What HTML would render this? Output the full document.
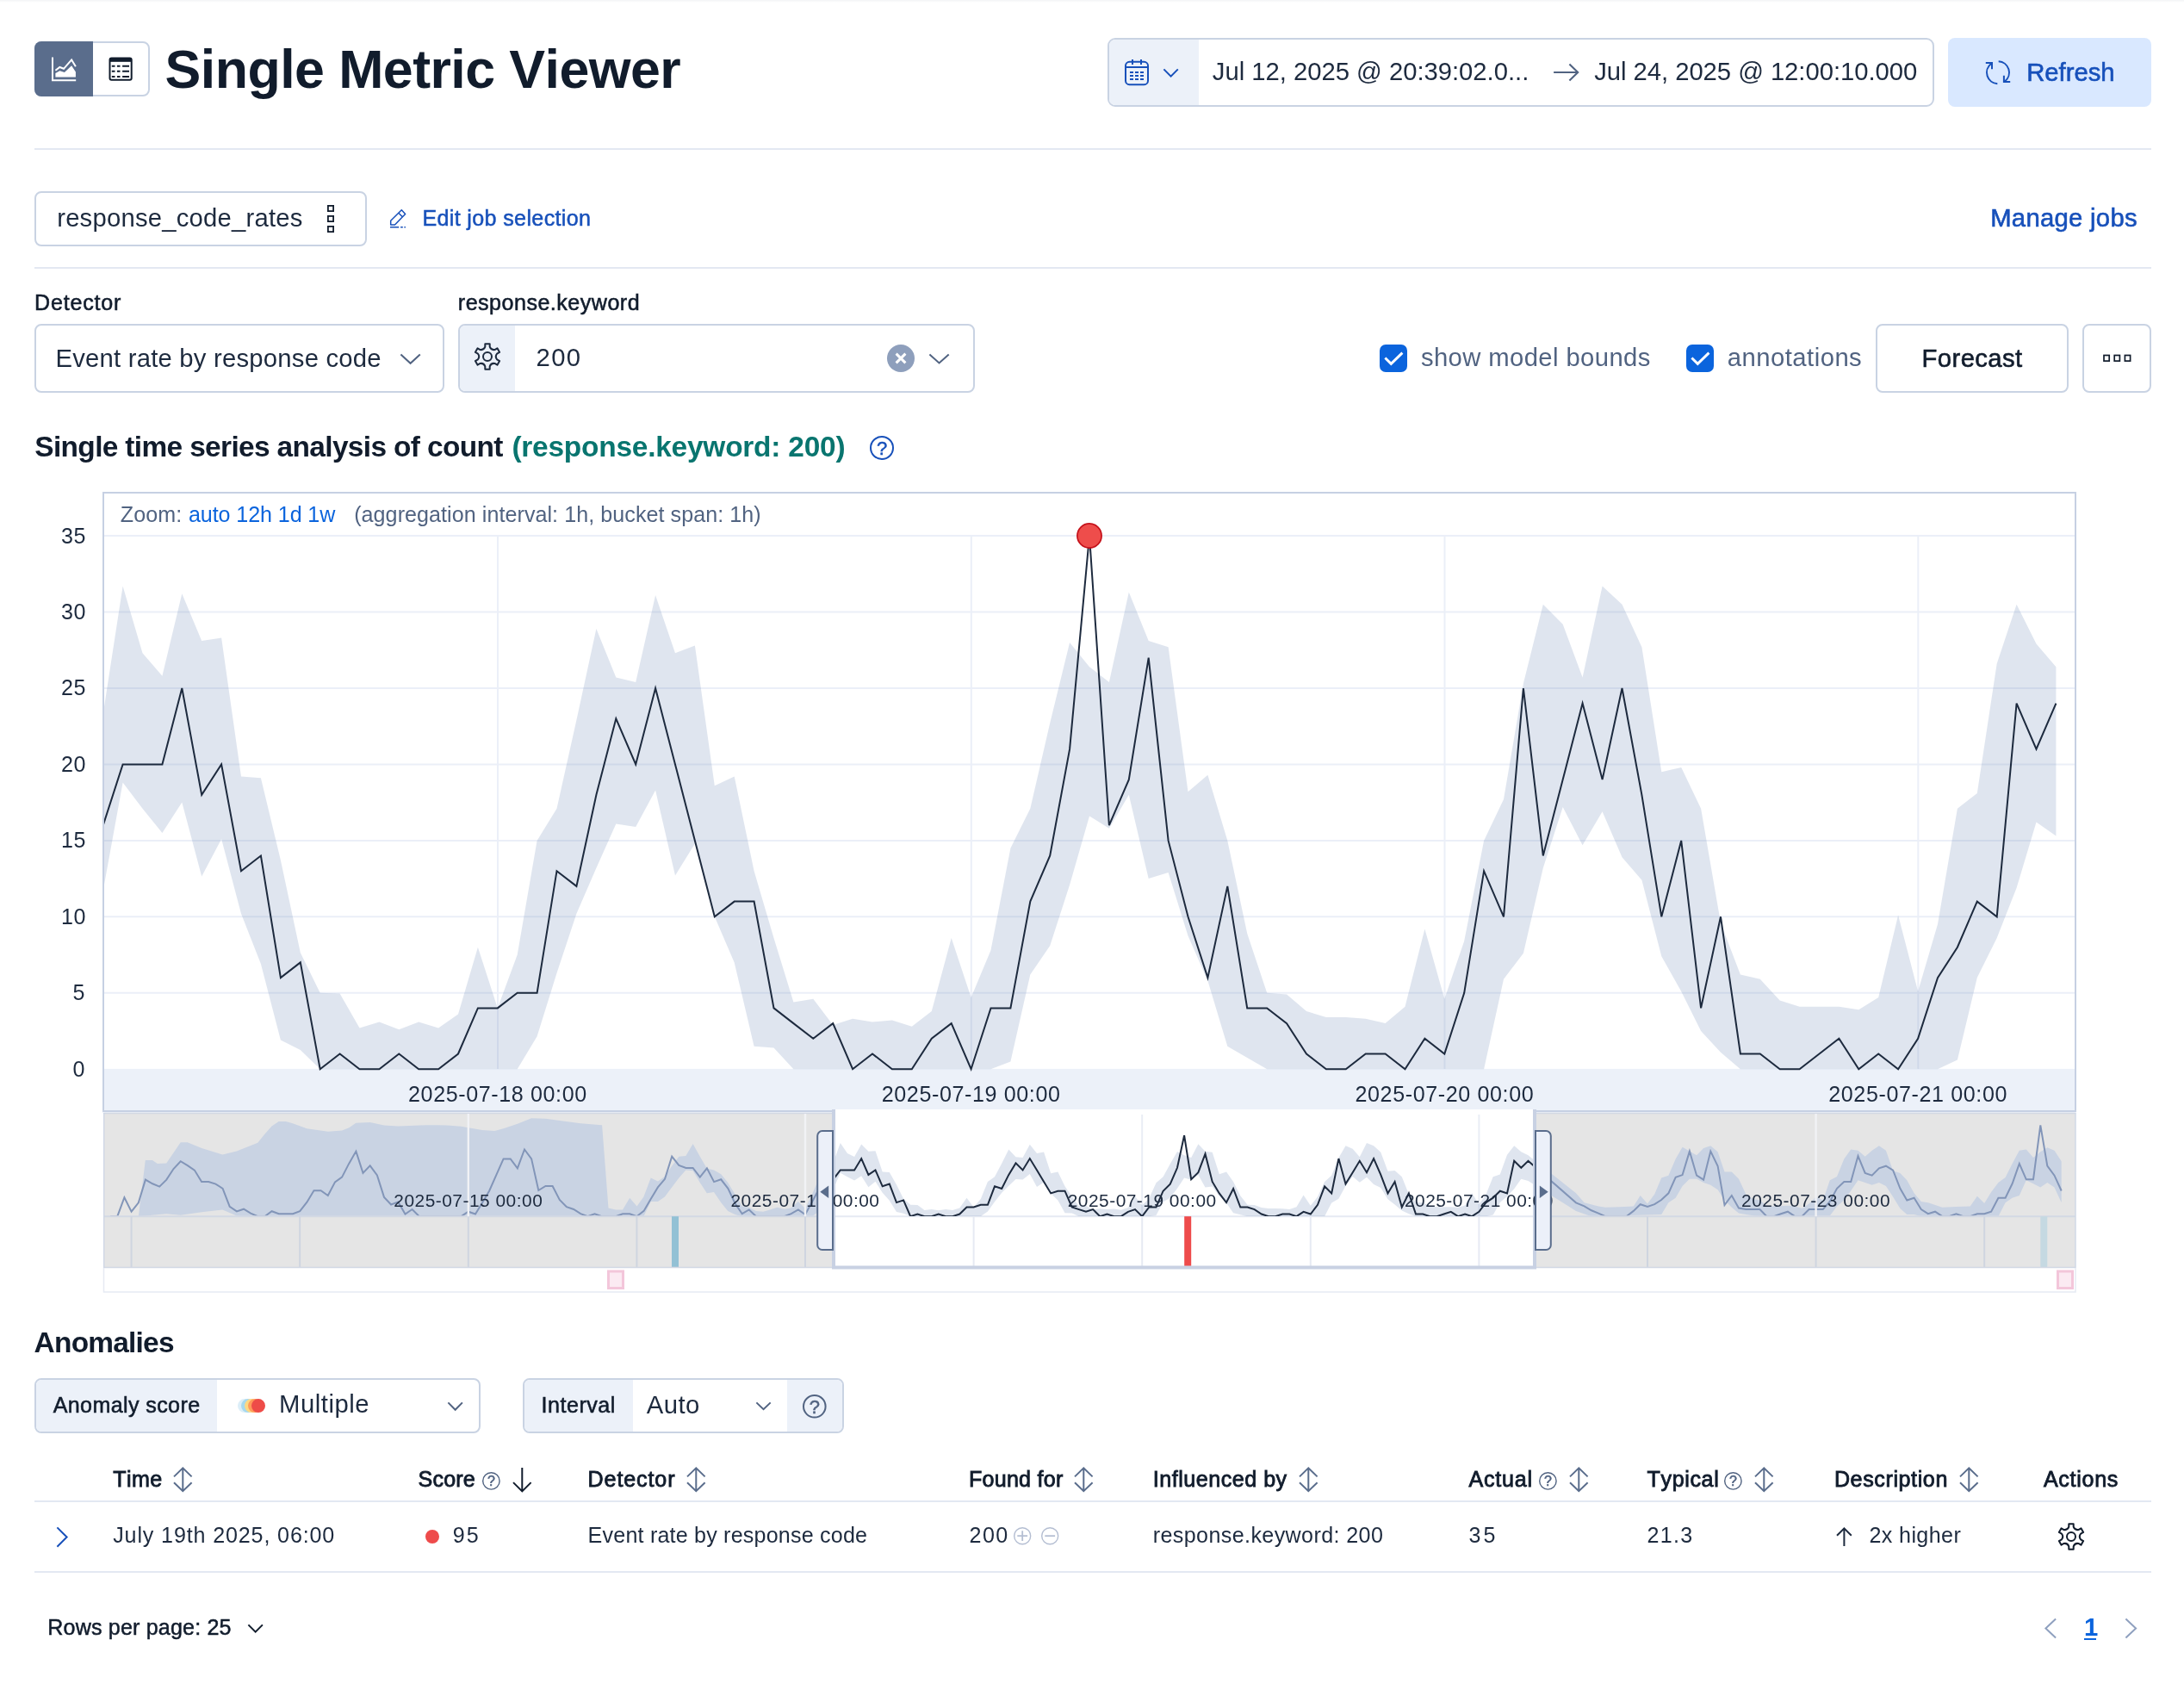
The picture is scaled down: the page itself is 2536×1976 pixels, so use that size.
<!DOCTYPE html>
<html lang="en"><head><meta charset="utf-8"><title>Single Metric Viewer</title>
<style>
html,body{margin:0;padding:0;background:#fff;}
body{width:2536px;height:1976px;position:relative;overflow:hidden;font-family:"Liberation Sans",sans-serif;}
#app{position:absolute;left:0;top:0;width:2536px;height:1976px;will-change:transform;}
.t{position:absolute;white-space:pre;font-family:"Liberation Sans",sans-serif;font-kerning:none;}
svg text{font-family:"Liberation Sans",sans-serif;}
</style></head>
<body>
<div id="app">
<!-- page header / controls -->
<div style="position:absolute;left:0px;top:0px;width:2536px;height:3px;background:linear-gradient(#f3f4f6,#ffffff);"></div>
<div style="position:absolute;left:40px;top:48px;width:134px;height:64px;border:2px solid #c9d3e3;border-radius:8px;box-sizing:border-box;background:#fff;"></div>
<div style="position:absolute;left:40px;top:48px;width:68px;height:64px;background:#5a6d8c;border-radius:8px 0 0 8px;"></div>
<svg style="position:absolute;left:58px;top:64px;overflow:visible" width="32" height="32" viewBox="0 0 32 32" ><path d="M3,2.5V29.2H30.2" fill="none" stroke="#fff" stroke-width="2"/><polyline points="6.4,17.8 11.4,14 16,15.8 25.1,5.4 29.9,13.3" fill="none" stroke="#fff" stroke-width="2"/><polygon points="6.4,25.5 6.4,21 11.4,18.2 16.9,20 25.1,12.2 29.9,19.5 29.9,25.5" fill="#fff"/></svg>
<svg style="position:absolute;left:124px;top:64px;overflow:visible" width="32" height="32" viewBox="0 0 32 32" ><rect x="3.5" y="3.6" width="25.2" height="25.2" rx="2" fill="none" stroke="#111c2c" stroke-width="2"/><rect x="3.5" y="3.6" width="25.2" height="4.2" fill="#111c2c"/><path d="M5.8,12.7h3.7M11.9,12.7h3.6M18.1,12.7h7.9M5.8,18.7h3.7M11.9,18.7h3.6M18.1,18.7h7.9M5.8,24.9h3.7M11.9,24.9h3.6M18.1,24.9h7.9" stroke="#111c2c" stroke-width="2" fill="none"/></svg>
<span class="t h1" style="left:191.60px;top:41.07px;font-size:62.7px;line-height:78px;letter-spacing:-0.560px;font-weight:700;color:#111c2c;">Single Metric Viewer</span>
<div style="position:absolute;left:1286px;top:44px;width:960px;height:80px;border:2px solid #c9d3e3;border-radius:9px;box-sizing:border-box;background:#fff;overflow:hidden;"><div style="position:absolute;left:0px;top:0px;width:104px;height:76px;background:#ecf1f9;"></div></div>
<svg style="position:absolute;left:1306px;top:69px;overflow:visible" width="28" height="30" viewBox="0 0 28 30" ><rect x="1" y="2.8" width="26" height="26.4" rx="4.5" fill="none" stroke="#1750ba" stroke-width="2"/><path d="M9,0v6M19,0v6M1,9H27" stroke="#1750ba" stroke-width="2" fill="none"/><path d="M6,15h4M12,15h4M18,15h4M6,19h4M12,19h4M18,19h4M6,23h4M12,23h4M18,23h4" stroke="#1750ba" stroke-width="2" fill="none"/></svg>
<svg style="position:absolute;left:1350.2px;top:78.6px;overflow:visible" width="19.200000000000045" height="11.0" viewBox="0 0 19.200000000000045 11.0" ><polyline points="1.40,1.40 9.60,9.60 17.80,1.40" fill="none" stroke="#1750ba" stroke-width="2" stroke-linecap="butt" stroke-linejoin="miter"/></svg>
<span class="t" style="left:1407.80px;top:65.46px;font-size:29.26px;line-height:37px;letter-spacing:-0.016px;font-weight:400;color:#1d2a3e;">Jul 12, 2025 @ 20:39:02.0...</span>
<svg style="position:absolute;left:1803px;top:74px;overflow:visible" width="31" height="20" viewBox="0 0 31 20" ><path d="M1.1,10H29.4M19.4,0.4L29.2,10L19.4,19.6" fill="none" stroke="#516381" stroke-width="2.1"/></svg>
<span class="t" style="left:1851.20px;top:65.46px;font-size:29.26px;line-height:37px;letter-spacing:-0.041px;font-weight:400;color:#1d2a3e;">Jul 24, 2025 @ 12:00:10.000</span>
<div style="position:absolute;left:2262px;top:44px;width:236px;height:80px;background:#d9e8ff;border-radius:8px;"></div>
<svg style="position:absolute;left:0;top:0;overflow:visible" width="1" height="1"><path d="M2312.00,73.96A13,13 0 0 0 2319.32,97.18" fill="none" stroke="#1750ba" stroke-width="2"/><path d="M2320.68,71.22A13,13 0 0 1 2328.00,94.44" fill="none" stroke="#1750ba" stroke-width="2"/><path d="M2305.8,73H2313V80.3" fill="none" stroke="#1750ba" stroke-width="2"/><path d="M2326.9,87.8V95.1H2334.2" fill="none" stroke="#1750ba" stroke-width="2"/></svg>
<span class="t" style="left:2353.20px;top:65.56px;font-size:29.26px;line-height:37px;letter-spacing:-0.002px;font-weight:400;color:#1750ba;-webkit-text-stroke:0.6px #1750ba;">Refresh</span>
<div style="position:absolute;left:40px;top:172px;width:2458px;height:2px;background:#e3e8f2;"></div>
<div style="position:absolute;left:40px;top:222px;width:386px;height:64px;border:2px solid #c9d3e3;border-radius:8px;box-sizing:border-box;background:#fff;"></div>
<span class="t" style="left:66.20px;top:235.36px;font-size:29.26px;line-height:37px;letter-spacing:0.213px;font-weight:400;color:#1d2a3e;">response_code_rates</span>
<svg style="position:absolute;left:0;top:0;overflow:visible" width="1" height="1"><rect x="380.9" y="238.9" width="6.2" height="6.2" fill="none" stroke="#111c2c" stroke-width="1.8"/><rect x="380.9" y="250.9" width="6.2" height="6.2" fill="none" stroke="#111c2c" stroke-width="1.8"/><rect x="380.9" y="262.9" width="6.2" height="6.2" fill="none" stroke="#111c2c" stroke-width="1.8"/></svg>
<svg style="position:absolute;left:0;top:0;overflow:visible" width="1" height="1"><path d="M453.7,256.2L466.3,243.8L470.6,248.5L458.5,260.9H453.7Z M462.9,247.3L467,251.5" fill="none" stroke="#1750ba" stroke-width="1.5" stroke-linejoin="round"/><path d="M453,263.8H463.2M465.1,263.8H467.8M469.4,263.8H470.9" stroke="#1750ba" stroke-width="1.6" fill="none"/></svg>
<span class="t" style="left:490.40px;top:237.61px;font-size:25.08px;line-height:31px;letter-spacing:0.355px;font-weight:400;color:#1750ba;-webkit-text-stroke:0.5px #1750ba;">Edit job selection</span>
<span class="t" style="left:2311.20px;top:235.36px;font-size:29.26px;line-height:37px;letter-spacing:0.294px;font-weight:400;color:#1750ba;-webkit-text-stroke:0.6px #1750ba;">Manage jobs</span>
<div style="position:absolute;left:40px;top:310px;width:2458px;height:2px;background:#e3e8f2;"></div>
<span class="t" style="left:40.00px;top:336.01px;font-size:25.08px;line-height:31px;letter-spacing:0.810px;font-weight:400;color:#111c2c;-webkit-text-stroke:0.55px #111c2c;">Detector</span>
<span class="t" style="left:531.80px;top:335.51px;font-size:25.08px;line-height:31px;letter-spacing:0.486px;font-weight:400;color:#111c2c;-webkit-text-stroke:0.55px #111c2c;">response.keyword</span>
<div style="position:absolute;left:40px;top:376px;width:476px;height:80px;border:2px solid #c9d3e3;border-radius:8px;box-sizing:border-box;background:#fff;"></div>
<span class="t" style="left:64.50px;top:397.56px;font-size:29.26px;line-height:37px;letter-spacing:0.219px;font-weight:400;color:#1d2a3e;">Event rate by response code</span>
<svg style="position:absolute;left:463.6px;top:409.8px;overflow:visible" width="25.19999999999999" height="13.199999999999989" viewBox="0 0 25.19999999999999 13.199999999999989" ><polyline points="1.40,1.40 12.60,11.80 23.80,1.40" fill="none" stroke="#516381" stroke-width="2" stroke-linecap="butt" stroke-linejoin="miter"/></svg>
<div style="position:absolute;left:532px;top:376px;width:600px;height:80px;border:2px solid #c9d3e3;border-radius:8px;box-sizing:border-box;background:#fff;overflow:hidden;"><div style="position:absolute;left:0px;top:0px;width:64px;height:76px;background:#ecf1f9;"></div></div>
<svg style="position:absolute;left:546.0px;top:394.0px;overflow:visible" width="40" height="40" viewBox="0 0 40 40" ><path d="M17.30,8.72L17.30,5.25L22.70,5.25L22.70,8.72A5.2,5.2 0 0 0 28.42,12.02L31.43,10.28L34.13,14.96L31.12,16.70A5.2,5.2 0 0 0 31.12,23.30L34.13,25.04L31.43,29.72L28.42,27.98A5.2,5.2 0 0 0 22.70,31.28L22.70,34.75L17.30,34.75L17.30,31.28A5.2,5.2 0 0 0 11.58,27.98L8.57,29.72L5.87,25.04L8.88,23.30A5.2,5.2 0 0 0 8.88,16.70L5.87,14.96L8.57,10.28L11.58,12.02A5.2,5.2 0 0 0 17.30,8.72Z" fill="none" stroke="#1d2a3e" stroke-width="2" stroke-linejoin="round"/><circle cx="20.0" cy="20.0" r="5" fill="none" stroke="#1d2a3e" stroke-width="2"/></svg>
<span class="t" style="left:622.60px;top:397.06px;font-size:29.26px;line-height:37px;letter-spacing:1.267px;font-weight:400;color:#1d2a3e;">200</span>
<svg style="position:absolute;left:1030px;top:400px;overflow:visible" width="32" height="32" viewBox="0 0 32 32" ><circle cx="16" cy="16" r="16" fill="#8e9fbc"/><path d="M10.6,10.6L21.4,21.4M21.4,10.6L10.6,21.4" stroke="#fff" stroke-width="3" fill="none"/></svg>
<svg style="position:absolute;left:1077.6px;top:409.8px;overflow:visible" width="25.100000000000136" height="12.800000000000011" viewBox="0 0 25.100000000000136 12.800000000000011" ><polyline points="1.40,1.40 12.55,11.40 23.70,1.40" fill="none" stroke="#516381" stroke-width="2" stroke-linecap="butt" stroke-linejoin="miter"/></svg>
<svg style="position:absolute;left:1602px;top:400px;overflow:visible" width="32" height="32" viewBox="0 0 32 32" ><rect width="32" height="32" rx="7" fill="#0b64dd"/><path d="M6.4,15.5L13.3,22.4L26.4,9.6" fill="none" stroke="#fff" stroke-width="2.9"/></svg>
<span class="t" style="left:1649.90px;top:397.36px;font-size:29.26px;line-height:37px;letter-spacing:0.393px;font-weight:400;color:#516381;">show model bounds</span>
<svg style="position:absolute;left:1958px;top:400px;overflow:visible" width="32" height="32" viewBox="0 0 32 32" ><rect width="32" height="32" rx="7" fill="#0b64dd"/><path d="M6.4,15.5L13.3,22.4L26.4,9.6" fill="none" stroke="#fff" stroke-width="2.9"/></svg>
<span class="t" style="left:2005.80px;top:397.36px;font-size:29.26px;line-height:37px;letter-spacing:0.470px;font-weight:400;color:#516381;">annotations</span>
<div style="position:absolute;left:2178px;top:376px;width:224px;height:80px;border:2px solid #c9d3e3;border-radius:8px;box-sizing:border-box;background:#fff;"></div>
<span class="t" style="left:2231.60px;top:397.56px;font-size:29.26px;line-height:37px;letter-spacing:0.387px;font-weight:400;color:#111c2c;-webkit-text-stroke:0.6px #111c2c;">Forecast</span>
<div style="position:absolute;left:2418px;top:376px;width:80px;height:80px;border:2px solid #c9d3e3;border-radius:8px;box-sizing:border-box;background:#fff;"></div>
<svg style="position:absolute;left:0;top:0;overflow:visible" width="1" height="1"><rect x="2443" y="412.5" width="6.2" height="6.6" fill="none" stroke="#111c2c" stroke-width="1.7"/><rect x="2455.2" y="412.5" width="6.2" height="6.6" fill="none" stroke="#111c2c" stroke-width="1.7"/><rect x="2467.4" y="412.5" width="6.2" height="6.6" fill="none" stroke="#111c2c" stroke-width="1.7"/></svg>
<span class="t" style="left:40.30px;top:497.71px;font-size:33.44px;line-height:42px;letter-spacing:-0.642px;font-weight:700;color:#111c2c;">Single time series analysis of count</span>
<span class="t" style="left:594.40px;top:497.71px;font-size:33.44px;line-height:42px;letter-spacing:-0.217px;font-weight:700;color:#09756f;">(response.keyword: 200)</span>
<svg style="position:absolute;left:1008.0px;top:503.9px;overflow:visible" width="32" height="32" viewBox="0 0 32 32" ><circle cx="16.0" cy="16.0" r="13.0" fill="none" stroke="#1750ba" stroke-width="2"/><text x="16.0" y="23.92" text-anchor="middle" font-family="Liberation Sans, sans-serif" font-size="22" font-weight="400" fill="#1750ba" stroke="#1750ba" stroke-width="0.5">?</text></svg>
<!-- time series chart -->
<svg style="position:absolute;left:0;top:0" width="2536" height="1520" viewBox="0 0 2536 1520">
<defs><clipPath id="fclip"><rect x="121" y="573" width="2288" height="716"/></clipPath><clipPath id="selclip"><rect x="968" y="1288" width="814" height="184"/></clipPath><clipPath id="selclip2"><rect x="968" y="1288" width="814" height="124.1"/></clipPath><clipPath id="ctxclip2"><rect x="121" y="1292" width="2289" height="121"/></clipPath><clipPath id="ctxclip"><rect x="121" y="1292" width="2289" height="180"/></clipPath></defs>
<line x1="121" x2="2409" y1="1152.8" y2="1152.8" stroke="#ebeff8" stroke-width="2"/>
<line x1="121" x2="2409" y1="1064.3" y2="1064.3" stroke="#ebeff8" stroke-width="2"/>
<line x1="121" x2="2409" y1="975.9" y2="975.9" stroke="#ebeff8" stroke-width="2"/>
<line x1="121" x2="2409" y1="887.4" y2="887.4" stroke="#ebeff8" stroke-width="2"/>
<line x1="121" x2="2409" y1="799.0" y2="799.0" stroke="#ebeff8" stroke-width="2"/>
<line x1="121" x2="2409" y1="710.5" y2="710.5" stroke="#ebeff8" stroke-width="2"/>
<line x1="121" x2="2409" y1="622.0" y2="622.0" stroke="#ebeff8" stroke-width="2"/>
<line x1="578.0" x2="578.0" y1="622.0" y2="1241.2" stroke="#ebeff8" stroke-width="2"/>
<line x1="1127.8" x2="1127.8" y1="622.0" y2="1241.2" stroke="#ebeff8" stroke-width="2"/>
<line x1="1677.5" x2="1677.5" y1="622.0" y2="1241.2" stroke="#ebeff8" stroke-width="2"/>
<line x1="2227.3" x2="2227.3" y1="622.0" y2="1241.2" stroke="#ebeff8" stroke-width="2"/>
<rect x="121" y="1240.9" width="2288" height="48.1" fill="#ecf1f9"/>
<polygon clip-path="url(#fclip)" points="119.7,829.0 142.6,680.4 165.5,758.3 188.4,784.8 211.3,689.3 234.2,744.1 257.1,740.6 280.0,901.6 302.9,903.3 325.9,998.8 348.8,1105.9 371.7,1152.8 394.6,1153.6 417.5,1193.4 440.4,1186.4 463.3,1195.2 486.2,1186.4 509.1,1193.4 532.0,1177.5 554.9,1099.7 577.8,1170.4 600.7,1108.5 623.6,975.9 646.5,938.7 669.4,836.1 692.4,730.0 715.3,786.6 738.2,791.9 761.1,691.0 784.0,758.3 806.9,749.4 829.8,912.2 852.7,901.6 875.6,1011.2 898.5,1089.1 921.4,1163.4 944.3,1159.8 967.2,1189.9 990.1,1182.8 1013.0,1186.4 1035.9,1184.6 1058.8,1191.7 1081.8,1174.0 1104.7,1089.1 1127.6,1158.1 1150.5,1103.2 1173.4,984.7 1196.3,938.7 1219.2,839.6 1242.1,745.9 1265.0,774.2 1287.9,791.9 1310.8,687.5 1333.7,744.1 1356.6,751.2 1379.5,919.2 1402.4,899.8 1425.3,975.9 1448.2,1083.8 1471.2,1152.8 1494.1,1154.5 1517.0,1174.0 1539.9,1181.1 1562.8,1181.1 1585.7,1182.8 1608.6,1188.1 1631.5,1168.7 1654.4,1078.5 1677.3,1159.8 1700.2,1092.6 1723.1,975.9 1746.0,928.1 1768.9,793.6 1791.8,701.7 1814.7,724.7 1837.6,786.6 1860.6,680.4 1883.5,701.7 1906.4,751.2 1929.3,896.2 1952.2,890.9 1975.1,938.7 1998.0,1071.4 2020.9,1131.5 2043.8,1136.8 2066.7,1161.6 2089.6,1168.7 2112.5,1168.7 2135.4,1168.7 2158.3,1172.2 2181.2,1158.1 2204.1,1062.5 2227.1,1151.0 2250.0,1073.1 2272.9,938.7 2295.8,921.0 2318.7,770.6 2341.6,701.7 2364.5,747.6 2387.4,774.2 2387.4,970.5 2364.5,954.6 2341.6,1030.7 2318.7,1089.1 2295.8,1135.1 2272.9,1230.6 2250.0,1241.2 2227.1,1241.2 2204.1,1241.2 2181.2,1241.2 2158.3,1241.2 2135.4,1241.2 2112.5,1241.2 2089.6,1241.2 2066.7,1241.2 2043.8,1241.2 2020.9,1241.2 1998.0,1221.7 1975.1,1197.0 1952.2,1151.0 1929.3,1110.3 1906.4,1021.8 1883.5,995.3 1860.6,942.2 1837.6,981.2 1814.7,936.9 1791.8,1007.7 1768.9,1106.8 1746.0,1136.8 1723.1,1241.2 1700.2,1241.2 1677.3,1241.2 1654.4,1241.2 1631.5,1241.2 1608.6,1241.2 1585.7,1241.2 1562.8,1241.2 1539.9,1241.2 1517.0,1241.2 1494.1,1241.2 1471.2,1241.2 1448.2,1227.9 1425.3,1214.7 1402.4,1138.6 1379.5,1086.4 1356.6,1013.0 1333.7,1020.1 1310.8,922.8 1287.9,961.7 1265.0,947.5 1242.1,1027.2 1219.2,1097.9 1196.3,1131.5 1173.4,1232.4 1150.5,1241.2 1127.6,1241.2 1104.7,1241.2 1081.8,1241.2 1058.8,1241.2 1035.9,1241.2 1013.0,1241.2 990.1,1241.2 967.2,1241.2 944.3,1241.2 921.4,1241.2 898.5,1216.4 875.6,1214.7 852.7,1117.4 829.8,1064.3 806.9,979.4 784.0,1016.5 761.1,917.5 738.2,959.9 715.3,956.4 692.4,1007.7 669.4,1060.8 646.5,1129.8 623.6,1203.2 600.7,1241.2 577.8,1241.2 554.9,1241.2 532.0,1241.2 509.1,1241.2 486.2,1241.2 463.3,1241.2 440.4,1241.2 417.5,1241.2 394.6,1241.2 371.7,1241.2 348.8,1219.1 325.9,1207.6 302.9,1119.1 280.0,1060.8 257.1,974.1 234.2,1017.4 211.3,931.6 188.4,967.0 165.5,938.7 142.6,908.6 119.7,1034.2" fill="rgb(95,125,175)" fill-opacity="0.2"/>
<polyline clip-path="url(#fclip)" points="119.7,958.2 142.6,887.4 165.5,887.4 188.4,887.4 211.3,799.0 234.2,922.8 257.1,887.4 280.0,1011.2 302.9,993.5 325.9,1135.1 348.8,1117.4 371.7,1241.2 394.6,1223.5 417.5,1241.2 440.4,1241.2 463.3,1223.5 486.2,1241.2 509.1,1241.2 532.0,1223.5 554.9,1170.4 577.8,1170.4 600.7,1152.8 623.6,1152.8 646.5,1011.2 669.4,1028.9 692.4,922.8 715.3,834.3 738.2,887.4 761.1,799.0 784.0,887.4 806.9,975.9 829.8,1064.3 852.7,1046.6 875.6,1046.6 898.5,1170.4 921.4,1188.1 944.3,1205.8 967.2,1188.1 990.1,1241.2 1013.0,1223.5 1035.9,1241.2 1058.8,1241.2 1081.8,1205.8 1104.7,1188.1 1127.6,1241.2 1150.5,1170.4 1173.4,1170.4 1196.3,1046.6 1219.2,993.5 1242.1,869.7 1265.0,622.0 1287.9,958.2 1310.8,905.1 1333.7,763.6 1356.6,975.9 1379.5,1064.3 1402.4,1135.1 1425.3,1028.9 1448.2,1170.4 1471.2,1170.4 1494.1,1188.1 1517.0,1223.5 1539.9,1241.2 1562.8,1241.2 1585.7,1223.5 1608.6,1223.5 1631.5,1241.2 1654.4,1205.8 1677.3,1223.5 1700.2,1152.8 1723.1,1011.2 1746.0,1064.3 1768.9,799.0 1791.8,993.5 1814.7,905.1 1837.6,816.6 1860.6,905.1 1883.5,799.0 1906.4,922.8 1929.3,1064.3 1952.2,975.9 1975.1,1170.4 1998.0,1064.3 2020.9,1223.5 2043.8,1223.5 2066.7,1241.2 2089.6,1241.2 2112.5,1223.5 2135.4,1205.8 2158.3,1241.2 2181.2,1223.5 2204.1,1241.2 2227.1,1205.8 2250.0,1135.1 2272.9,1099.7 2295.8,1046.6 2318.7,1064.3 2341.6,816.6 2364.5,869.7 2387.4,816.6" fill="none" stroke="#1d2a3e" stroke-width="2" stroke-linejoin="miter"/>
<circle cx="1265.0" cy="622.0" r="14.1" fill="#ee4d4b" stroke="#c5121b" stroke-width="1.7"/>
<rect x="120" y="572" width="2290" height="718" fill="none" stroke="#c6d0e3" stroke-width="2"/>
<rect x="119" y="1291" width="2292" height="1.6" fill="#eef2f9"/>
<rect x="121" y="1292" width="2289" height="180" fill="#e5e5e5"/>
<line x1="121" x2="2410" y1="1292.5" y2="1292.5" stroke="#d2d8e4" stroke-width="1.5"/>
<g clip-path="url(#ctxclip2)"><polygon points="160.8,1412.2 168.8,1347.1 177.0,1347.1 182.8,1350.9 193.2,1350.4 209.7,1326.2 217.7,1326.2 234.2,1333.1 258.4,1340.5 274.8,1336.6 299.3,1326.8 307.5,1316.6 315.5,1307.5 323.7,1302.0 332.0,1302.0 339.9,1304.2 356.4,1310.3 380.9,1313.8 397.1,1312.5 405.3,1309.2 413.3,1303.7 429.8,1303.1 446.0,1306.4 462.2,1307.5 494.6,1306.2 519.3,1306.4 535.5,1307.8 543.8,1309.2 560.0,1311.9 574.3,1313.0 584.5,1310.3 600.9,1304.8 617.1,1298.2 633.4,1298.7 649.8,1300.9 674.3,1304.2 698.7,1306.2 698.8,1306.2 699.5,1306.2 699.1,1306.2 706.5,1402.6 715.0,1404.5 723.0,1404.5 731.2,1390.8 739.5,1400.4 747.4,1389.4 755.7,1367.4 763.9,1371.5 771.9,1366.0 780.1,1353.7 788.4,1342.7 796.3,1342.1 804.6,1328.1 812.8,1342.7 820.8,1356.4 829.0,1358.6 837.3,1363.3 845.2,1372.9 853.5,1386.6 861.7,1400.4 869.7,1401.8 877.9,1405.9 886.2,1406.7 894.1,1404.5 902.4,1401.8 910.6,1403.7 918.6,1402.6 926.8,1394.9 935.1,1403.1 943.0,1386.6 951.3,1367.4 959.5,1350.9 967.5,1344.1 967.6,1349.6 975.8,1327.1 983.9,1338.9 992.1,1342.9 1000.2,1328.4 1008.4,1336.8 1016.5,1336.2 1024.7,1360.6 1032.8,1360.9 1041.0,1375.4 1049.1,1391.7 1057.2,1398.8 1065.4,1398.9 1073.5,1405.0 1081.7,1403.9 1089.8,1405.2 1098.0,1403.9 1106.2,1405.0 1114.3,1402.5 1122.5,1390.7 1130.6,1401.5 1138.8,1392.1 1146.9,1371.9 1155.0,1366.3 1163.2,1350.7 1171.3,1334.6 1179.5,1343.2 1187.6,1344.0 1195.8,1328.7 1204.0,1338.9 1212.1,1337.6 1220.2,1362.3 1228.4,1360.6 1236.5,1377.3 1244.7,1389.1 1252.8,1400.4 1261.0,1399.8 1269.1,1404.4 1277.3,1403.3 1285.5,1403.9 1293.6,1403.6 1301.8,1404.7 1309.9,1402.0 1318.0,1389.1 1326.2,1399.6 1334.3,1391.3 1342.5,1373.3 1350.6,1366.3 1358.8,1351.3 1367.0,1337.0 1375.1,1341.3 1383.2,1344.0 1391.4,1328.2 1399.5,1336.8 1407.7,1337.8 1415.8,1363.3 1424.0,1360.4 1432.1,1371.9 1440.3,1388.3 1448.5,1398.8 1456.6,1399.0 1464.8,1402.0 1472.9,1403.1 1481.0,1403.1 1489.2,1403.3 1497.3,1404.1 1505.5,1401.2 1513.6,1387.5 1521.8,1399.8 1530.0,1389.6 1538.1,1371.9 1546.2,1364.7 1554.4,1344.3 1562.5,1330.3 1570.7,1333.8 1578.8,1343.2 1587.0,1327.1 1595.1,1330.3 1603.3,1337.8 1611.5,1359.8 1619.6,1359.0 1627.8,1366.3 1635.9,1386.4 1644.0,1395.6 1652.2,1396.4 1660.3,1400.1 1668.5,1401.2 1676.6,1401.2 1684.8,1401.2 1693.0,1401.7 1701.1,1399.6 1709.2,1385.1 1717.4,1398.5 1725.5,1386.7 1733.7,1366.3 1741.8,1363.6 1750.0,1340.8 1758.2,1330.3 1766.3,1337.3 1774.5,1341.3 1830.0,1385.3 1839.6,1396.3 1856.1,1400.4 1864.1,1401.8 1880.5,1401.2 1896.8,1400.4 1904.7,1388.0 1913.0,1397.6 1921.2,1386.6 1929.2,1367.4 1937.4,1364.7 1945.7,1345.4 1953.6,1331.7 1961.9,1336.6 1970.1,1341.3 1978.1,1333.1 1986.3,1330.3 1994.6,1337.2 2002.5,1360.5 2010.8,1360.5 2019.0,1368.8 2027.3,1386.6 2035.2,1392.1 2043.5,1393.5 2051.4,1399.8 2059.7,1400.4 2075.9,1399.8 2084.1,1400.4 2092.4,1403.1 2100.6,1397.6 2108.6,1389.4 2116.8,1393.5 2124.8,1370.2 2133.0,1366.0 2141.3,1345.4 2149.2,1334.5 2157.5,1335.8 2165.7,1342.7 2173.7,1335.8 2181.9,1330.3 2189.9,1335.8 2198.1,1359.2 2206.4,1361.9 2214.3,1370.2 2222.6,1385.3 2230.8,1394.9 2238.8,1396.3 2255.3,1401.8 2271.5,1400.9 2287.7,1400.4 2295.9,1388.8 2304.2,1397.1 2312.1,1383.9 2320.4,1372.9 2328.6,1366.9 2336.6,1350.9 2344.8,1335.8 2352.8,1334.5 2361.0,1344.1 2369.3,1337.2 2377.3,1332.3 2385.5,1335.8 2393.7,1348.2 2393.7,1396.3 2385.5,1378.4 2377.3,1372.9 2369.3,1378.4 2361.0,1374.3 2352.8,1370.2 2344.8,1388.0 2336.6,1390.8 2328.6,1396.3 2320.4,1412.2 2230.8,1412.2 2222.6,1410.0 2214.3,1410.0 2206.4,1403.1 2198.1,1389.4 2189.9,1377.0 2181.9,1372.9 2173.7,1375.7 2165.7,1372.9 2157.5,1370.2 2149.2,1382.5 2141.3,1393.5 2133.0,1400.4 2124.8,1411.4 2043.5,1412.2 2027.3,1410.0 2019.0,1408.6 2010.8,1401.8 2002.5,1393.5 1994.6,1381.2 1986.3,1375.7 1978.1,1372.9 1970.1,1368.8 1961.9,1368.8 1953.6,1377.0 1945.7,1390.8 1937.4,1396.3 1929.2,1410.0 1847.9,1412.2 1830.0,1405.9 1774.5,1371.1 1766.3,1368.7 1758.2,1380.2 1750.0,1389.1 1741.8,1396.1 1733.7,1410.6 1725.5,1412.2 1717.4,1412.2 1709.2,1412.2 1701.1,1412.2 1693.0,1412.2 1684.8,1412.2 1676.6,1412.2 1668.5,1412.2 1660.3,1412.2 1652.2,1412.2 1644.0,1412.2 1635.9,1409.2 1627.8,1405.5 1619.6,1398.5 1611.5,1392.3 1603.3,1378.9 1595.1,1374.9 1587.0,1366.8 1578.8,1372.7 1570.7,1366.0 1562.5,1376.8 1554.4,1391.8 1546.2,1396.4 1538.1,1412.2 1530.0,1412.2 1521.8,1412.2 1513.6,1412.2 1505.5,1412.2 1497.3,1412.2 1489.2,1412.2 1481.0,1412.2 1472.9,1412.2 1464.8,1412.2 1456.6,1412.2 1448.5,1412.2 1440.3,1410.2 1432.1,1408.2 1424.0,1396.6 1415.8,1388.7 1407.7,1377.6 1399.5,1378.6 1391.4,1363.9 1383.2,1369.8 1375.1,1367.6 1367.0,1379.7 1358.8,1390.5 1350.6,1395.6 1342.5,1410.9 1334.3,1412.2 1326.2,1412.2 1318.0,1412.2 1309.9,1412.2 1301.8,1412.2 1293.6,1412.2 1285.5,1412.2 1277.3,1412.2 1269.1,1412.2 1261.0,1412.2 1252.8,1412.2 1244.7,1408.4 1236.5,1408.2 1228.4,1393.4 1220.2,1385.4 1212.1,1372.5 1204.0,1378.1 1195.8,1363.1 1187.6,1369.5 1179.5,1369.0 1171.3,1376.8 1163.2,1384.8 1155.0,1395.3 1146.9,1406.4 1138.8,1412.2 1130.6,1412.2 1122.5,1412.2 1114.3,1412.2 1106.2,1412.2 1098.0,1412.2 1089.8,1412.2 1081.7,1412.2 1073.5,1412.2 1065.4,1412.2 1057.2,1412.2 1049.1,1408.8 1041.0,1407.1 1032.8,1393.7 1024.7,1384.8 1016.5,1371.7 1008.4,1378.2 1000.2,1365.2 992.1,1370.6 983.9,1366.3 975.8,1361.7 967.6,1380.8 967.5,1382.5 959.5,1394.9 951.3,1405.9 943.0,1412.2 861.7,1412.2 853.5,1410.0 845.2,1405.9 837.3,1396.3 829.0,1383.9 820.8,1385.3 812.8,1372.9 804.6,1359.2 796.3,1358.6 788.4,1367.4 780.1,1378.4 771.9,1389.4 763.9,1394.9 755.7,1394.9 747.4,1412.2 698.7,1412.2 285.8,1412.2 274.8,1411.4 258.4,1404.5 234.2,1407.3 209.7,1410.8 193.2,1409.2 160.8,1412.2" fill="#c9d3e3" fill-opacity="1"/><polyline points="128.1,1412.2 136.3,1412.2 144.4,1390.2 152.6,1406.7 160.8,1396.3 168.9,1369.6 177.1,1374.3 185.2,1377.6 193.3,1369.6 201.5,1357.0 209.7,1348.2 217.8,1353.1 225.9,1358.6 234.1,1372.1 242.2,1372.1 250.4,1374.6 258.6,1379.8 266.7,1400.9 274.9,1406.4 283.0,1403.7 291.1,1408.6 299.3,1412.2 307.4,1412.2 315.6,1406.2 323.8,1409.2 331.9,1409.2 340.1,1409.2 348.2,1406.2 356.4,1395.7 364.5,1382.3 372.6,1382.3 380.8,1388.0 389.0,1372.4 397.1,1366.6 405.2,1350.9 413.4,1336.6 421.5,1361.9 429.7,1353.4 437.9,1364.4 446.0,1389.9 454.1,1398.5 462.3,1395.4 470.5,1409.5 478.6,1404.0 486.8,1412.2 494.9,1412.2 503.0,1412.2 511.2,1412.2 519.4,1412.2 527.5,1412.2 535.6,1412.2 543.8,1406.7 552.0,1409.5 560.1,1396.3 568.2,1382.5 576.4,1363.8 584.6,1345.4 592.7,1345.4 600.9,1356.4 609.0,1334.5 617.1,1345.4 625.3,1382.0 633.5,1377.0 641.6,1377.0 649.8,1393.0 657.9,1401.2 666.1,1404.0 674.2,1409.2 682.4,1412.2 690.5,1409.2 698.7,1412.2 706.8,1412.2 715.0,1412.2 723.1,1409.2 731.2,1409.2 739.4,1412.2 747.6,1405.9 755.7,1392.1 763.9,1378.4 772.0,1368.8 780.2,1342.7 788.3,1352.9 796.5,1355.9 804.6,1355.9 812.8,1366.6 820.9,1356.4 829.1,1372.1 837.2,1369.3 845.4,1379.8 853.5,1397.1 861.7,1409.2 869.8,1404.5 878.0,1412.2 886.1,1412.2 894.2,1412.2 902.4,1412.2 910.6,1412.2 918.7,1409.2 926.9,1404.5 935.0,1410.0 943.2,1394.9 951.3,1379.8 959.5,1375.7 967.6,1369.2 975.8,1358.5 983.9,1358.5 992.1,1358.5 1000.2,1345.1 1008.4,1363.9 1016.5,1358.5 1024.7,1377.3 1032.8,1374.6 1041.0,1396.1 1049.1,1393.4 1057.2,1412.2 1065.4,1409.5 1073.5,1412.2 1081.7,1412.2 1089.8,1409.5 1098.0,1412.2 1106.2,1412.2 1114.3,1409.5 1122.5,1401.5 1130.6,1401.5 1138.8,1398.8 1146.9,1398.8 1155.0,1377.3 1163.2,1380.0 1171.3,1363.9 1179.5,1350.4 1187.6,1358.5 1195.8,1345.1 1204.0,1358.5 1212.1,1371.9 1220.2,1385.4 1228.4,1382.7 1236.5,1382.7 1244.7,1401.5 1252.8,1404.1 1261.0,1406.8 1269.1,1404.1 1277.3,1412.2 1285.5,1409.5 1293.6,1412.2 1301.8,1412.2 1309.9,1406.8 1318.0,1404.1 1326.2,1412.2 1334.3,1401.5 1342.5,1401.5 1350.6,1382.7 1358.8,1374.6 1367.0,1355.8 1375.1,1318.2 1383.2,1369.2 1391.4,1361.2 1399.5,1339.7 1407.7,1371.9 1415.8,1385.4 1424.0,1396.1 1432.1,1380.0 1440.3,1401.5 1448.5,1401.5 1456.6,1404.1 1464.8,1409.5 1472.9,1412.2 1481.0,1412.2 1489.2,1409.5 1497.3,1409.5 1505.5,1412.2 1513.6,1406.8 1521.8,1409.5 1530.0,1398.8 1538.1,1377.3 1546.2,1385.4 1554.4,1345.1 1562.5,1374.6 1570.7,1361.2 1578.8,1347.8 1587.0,1361.2 1595.1,1345.1 1603.3,1363.9 1611.5,1385.4 1619.6,1371.9 1627.8,1401.5 1635.9,1385.4 1644.0,1409.5 1652.2,1409.5 1660.3,1412.2 1668.5,1412.2 1676.6,1409.5 1684.8,1406.8 1693.0,1412.2 1701.1,1409.5 1709.2,1412.2 1717.4,1406.8 1725.5,1396.1 1733.7,1390.7 1741.8,1382.7 1750.0,1385.4 1758.2,1347.8 1766.3,1355.8 1774.5,1347.8 1830.0,1396.3 1839.6,1400.4 1847.9,1405.3 1856.1,1408.6 1864.1,1412.2 1872.3,1412.2 1880.5,1412.2 1888.5,1412.2 1896.8,1405.9 1904.7,1398.2 1913.0,1400.9 1921.2,1398.2 1929.2,1393.0 1937.4,1385.3 1945.7,1366.9 1953.6,1364.1 1961.9,1336.6 1970.1,1364.7 1978.1,1369.6 1986.3,1336.6 1994.6,1353.7 2002.5,1399.0 2010.8,1388.0 2019.0,1402.6 2027.3,1404.0 2035.2,1404.0 2043.5,1404.0 2051.4,1412.2 2059.7,1412.2 2067.9,1409.2 2075.9,1406.7 2084.1,1412.2 2092.4,1412.2 2100.6,1404.0 2108.6,1404.0 2116.8,1404.0 2124.8,1394.9 2133.0,1379.8 2141.3,1372.1 2149.2,1372.1 2157.5,1342.1 2165.7,1361.9 2173.7,1364.7 2181.9,1356.4 2189.9,1353.7 2198.1,1358.6 2206.4,1379.8 2214.3,1393.5 2222.6,1390.8 2230.8,1404.0 2238.8,1409.2 2247.0,1406.7 2255.3,1412.2 2263.2,1412.2 2271.5,1409.2 2279.7,1412.2 2287.7,1412.2 2295.9,1409.2 2304.2,1409.2 2312.1,1406.7 2320.4,1390.8 2328.6,1390.8 2336.6,1374.3 2344.8,1350.9 2352.8,1369.3 2361.0,1369.3 2369.3,1306.4 2377.3,1353.7 2385.5,1364.7 2393.7,1382.5" fill="none" stroke="#8295b8" stroke-width="2"/></g>
<line x1="121" x2="2410" y1="1412.2" y2="1412.2" stroke="#d3d9e4" stroke-width="2"/>
<line x1="152.6" x2="152.6" y1="1412.2" y2="1472" stroke="#cfd5e0" stroke-width="2"/>
<line x1="348.2" x2="348.2" y1="1412.2" y2="1472" stroke="#cfd5e0" stroke-width="2"/>
<line x1="543.8" x2="543.8" y1="1412.2" y2="1472" stroke="#cfd5e0" stroke-width="2"/>
<line x1="543.8" x2="543.8" y1="1293" y2="1412.2" stroke="#f1f2f5" stroke-width="2.4"/>
<line x1="739.4" x2="739.4" y1="1412.2" y2="1472" stroke="#cfd5e0" stroke-width="2"/>
<line x1="935.0" x2="935.0" y1="1412.2" y2="1472" stroke="#cfd5e0" stroke-width="2"/>
<line x1="935.0" x2="935.0" y1="1293" y2="1412.2" stroke="#f1f2f5" stroke-width="2.4"/>
<line x1="1130.6" x2="1130.6" y1="1412.2" y2="1472" stroke="#cfd5e0" stroke-width="2"/>
<line x1="1326.2" x2="1326.2" y1="1412.2" y2="1472" stroke="#cfd5e0" stroke-width="2"/>
<line x1="1326.2" x2="1326.2" y1="1293" y2="1412.2" stroke="#f1f2f5" stroke-width="2.4"/>
<line x1="1521.8" x2="1521.8" y1="1412.2" y2="1472" stroke="#cfd5e0" stroke-width="2"/>
<line x1="1717.4" x2="1717.4" y1="1412.2" y2="1472" stroke="#cfd5e0" stroke-width="2"/>
<line x1="1717.4" x2="1717.4" y1="1293" y2="1412.2" stroke="#f1f2f5" stroke-width="2.4"/>
<line x1="1913.0" x2="1913.0" y1="1412.2" y2="1472" stroke="#cfd5e0" stroke-width="2"/>
<line x1="2108.6" x2="2108.6" y1="1412.2" y2="1472" stroke="#cfd5e0" stroke-width="2"/>
<line x1="2108.6" x2="2108.6" y1="1293" y2="1412.2" stroke="#f1f2f5" stroke-width="2.4"/>
<line x1="2304.2" x2="2304.2" y1="1412.2" y2="1472" stroke="#cfd5e0" stroke-width="2"/>
<rect x="780" y="1412.2" width="8" height="59.799999999999955" fill="#93c1d5"/>
<rect x="2369.3" y="1412.2" width="8" height="59.799999999999955" fill="#c5d9e2"/>
<line x1="121" x2="2410" y1="1471.5" y2="1471.5" stroke="#d2d8e4" stroke-width="1.5"/>
<path d="M120.7,1292V1472M2410,1292V1472" stroke="#cfd7e6" stroke-width="1.4" fill="none"/>
<rect x="968" y="1288" width="814" height="184" fill="#ffffff"/>
<g clip-path="url(#selclip)">
<line x1="152.6" x2="152.6" y1="1412.2" y2="1472" stroke="#e6eaf3" stroke-width="2"/>
<line x1="348.2" x2="348.2" y1="1412.2" y2="1472" stroke="#e6eaf3" stroke-width="2"/>
<line x1="543.8" x2="543.8" y1="1412.2" y2="1472" stroke="#e6eaf3" stroke-width="2"/>
<line x1="543.8" x2="543.8" y1="1294" y2="1412.2" stroke="#e9edf5" stroke-width="2"/>
<line x1="739.4" x2="739.4" y1="1412.2" y2="1472" stroke="#e6eaf3" stroke-width="2"/>
<line x1="935.0" x2="935.0" y1="1412.2" y2="1472" stroke="#e6eaf3" stroke-width="2"/>
<line x1="935.0" x2="935.0" y1="1294" y2="1412.2" stroke="#e9edf5" stroke-width="2"/>
<line x1="1130.6" x2="1130.6" y1="1412.2" y2="1472" stroke="#e6eaf3" stroke-width="2"/>
<line x1="1326.2" x2="1326.2" y1="1412.2" y2="1472" stroke="#e6eaf3" stroke-width="2"/>
<line x1="1326.2" x2="1326.2" y1="1294" y2="1412.2" stroke="#e9edf5" stroke-width="2"/>
<line x1="1521.8" x2="1521.8" y1="1412.2" y2="1472" stroke="#e6eaf3" stroke-width="2"/>
<line x1="1717.4" x2="1717.4" y1="1412.2" y2="1472" stroke="#e6eaf3" stroke-width="2"/>
<line x1="1717.4" x2="1717.4" y1="1294" y2="1412.2" stroke="#e9edf5" stroke-width="2"/>
<line x1="1913.0" x2="1913.0" y1="1412.2" y2="1472" stroke="#e6eaf3" stroke-width="2"/>
<line x1="2108.6" x2="2108.6" y1="1412.2" y2="1472" stroke="#e6eaf3" stroke-width="2"/>
<line x1="2108.6" x2="2108.6" y1="1294" y2="1412.2" stroke="#e9edf5" stroke-width="2"/>
<line x1="2304.2" x2="2304.2" y1="1412.2" y2="1472" stroke="#e6eaf3" stroke-width="2"/>
<line x1="968" x2="1782" y1="1412.2" y2="1412.2" stroke="#e6eaf3" stroke-width="2"/>
<rect x="1375.2" y="1412.2" width="8" height="57.799999999999955" fill="#ee4b4b"/>
</g>
<g clip-path="url(#selclip2)"><polygon points="160.8,1412.2 168.8,1347.1 177.0,1347.1 182.8,1350.9 193.2,1350.4 209.7,1326.2 217.7,1326.2 234.2,1333.1 258.4,1340.5 274.8,1336.6 299.3,1326.8 307.5,1316.6 315.5,1307.5 323.7,1302.0 332.0,1302.0 339.9,1304.2 356.4,1310.3 380.9,1313.8 397.1,1312.5 405.3,1309.2 413.3,1303.7 429.8,1303.1 446.0,1306.4 462.2,1307.5 494.6,1306.2 519.3,1306.4 535.5,1307.8 543.8,1309.2 560.0,1311.9 574.3,1313.0 584.5,1310.3 600.9,1304.8 617.1,1298.2 633.4,1298.7 649.8,1300.9 674.3,1304.2 698.7,1306.2 698.8,1306.2 699.5,1306.2 699.1,1306.2 706.5,1402.6 715.0,1404.5 723.0,1404.5 731.2,1390.8 739.5,1400.4 747.4,1389.4 755.7,1367.4 763.9,1371.5 771.9,1366.0 780.1,1353.7 788.4,1342.7 796.3,1342.1 804.6,1328.1 812.8,1342.7 820.8,1356.4 829.0,1358.6 837.3,1363.3 845.2,1372.9 853.5,1386.6 861.7,1400.4 869.7,1401.8 877.9,1405.9 886.2,1406.7 894.1,1404.5 902.4,1401.8 910.6,1403.7 918.6,1402.6 926.8,1394.9 935.1,1403.1 943.0,1386.6 951.3,1367.4 959.5,1350.9 967.5,1344.1 967.6,1349.6 975.8,1327.1 983.9,1338.9 992.1,1342.9 1000.2,1328.4 1008.4,1336.8 1016.5,1336.2 1024.7,1360.6 1032.8,1360.9 1041.0,1375.4 1049.1,1391.7 1057.2,1398.8 1065.4,1398.9 1073.5,1405.0 1081.7,1403.9 1089.8,1405.2 1098.0,1403.9 1106.2,1405.0 1114.3,1402.5 1122.5,1390.7 1130.6,1401.5 1138.8,1392.1 1146.9,1371.9 1155.0,1366.3 1163.2,1350.7 1171.3,1334.6 1179.5,1343.2 1187.6,1344.0 1195.8,1328.7 1204.0,1338.9 1212.1,1337.6 1220.2,1362.3 1228.4,1360.6 1236.5,1377.3 1244.7,1389.1 1252.8,1400.4 1261.0,1399.8 1269.1,1404.4 1277.3,1403.3 1285.5,1403.9 1293.6,1403.6 1301.8,1404.7 1309.9,1402.0 1318.0,1389.1 1326.2,1399.6 1334.3,1391.3 1342.5,1373.3 1350.6,1366.3 1358.8,1351.3 1367.0,1337.0 1375.1,1341.3 1383.2,1344.0 1391.4,1328.2 1399.5,1336.8 1407.7,1337.8 1415.8,1363.3 1424.0,1360.4 1432.1,1371.9 1440.3,1388.3 1448.5,1398.8 1456.6,1399.0 1464.8,1402.0 1472.9,1403.1 1481.0,1403.1 1489.2,1403.3 1497.3,1404.1 1505.5,1401.2 1513.6,1387.5 1521.8,1399.8 1530.0,1389.6 1538.1,1371.9 1546.2,1364.7 1554.4,1344.3 1562.5,1330.3 1570.7,1333.8 1578.8,1343.2 1587.0,1327.1 1595.1,1330.3 1603.3,1337.8 1611.5,1359.8 1619.6,1359.0 1627.8,1366.3 1635.9,1386.4 1644.0,1395.6 1652.2,1396.4 1660.3,1400.1 1668.5,1401.2 1676.6,1401.2 1684.8,1401.2 1693.0,1401.7 1701.1,1399.6 1709.2,1385.1 1717.4,1398.5 1725.5,1386.7 1733.7,1366.3 1741.8,1363.6 1750.0,1340.8 1758.2,1330.3 1766.3,1337.3 1774.5,1341.3 1830.0,1385.3 1839.6,1396.3 1856.1,1400.4 1864.1,1401.8 1880.5,1401.2 1896.8,1400.4 1904.7,1388.0 1913.0,1397.6 1921.2,1386.6 1929.2,1367.4 1937.4,1364.7 1945.7,1345.4 1953.6,1331.7 1961.9,1336.6 1970.1,1341.3 1978.1,1333.1 1986.3,1330.3 1994.6,1337.2 2002.5,1360.5 2010.8,1360.5 2019.0,1368.8 2027.3,1386.6 2035.2,1392.1 2043.5,1393.5 2051.4,1399.8 2059.7,1400.4 2075.9,1399.8 2084.1,1400.4 2092.4,1403.1 2100.6,1397.6 2108.6,1389.4 2116.8,1393.5 2124.8,1370.2 2133.0,1366.0 2141.3,1345.4 2149.2,1334.5 2157.5,1335.8 2165.7,1342.7 2173.7,1335.8 2181.9,1330.3 2189.9,1335.8 2198.1,1359.2 2206.4,1361.9 2214.3,1370.2 2222.6,1385.3 2230.8,1394.9 2238.8,1396.3 2255.3,1401.8 2271.5,1400.9 2287.7,1400.4 2295.9,1388.8 2304.2,1397.1 2312.1,1383.9 2320.4,1372.9 2328.6,1366.9 2336.6,1350.9 2344.8,1335.8 2352.8,1334.5 2361.0,1344.1 2369.3,1337.2 2377.3,1332.3 2385.5,1335.8 2393.7,1348.2 2393.7,1396.3 2385.5,1378.4 2377.3,1372.9 2369.3,1378.4 2361.0,1374.3 2352.8,1370.2 2344.8,1388.0 2336.6,1390.8 2328.6,1396.3 2320.4,1412.2 2230.8,1412.2 2222.6,1410.0 2214.3,1410.0 2206.4,1403.1 2198.1,1389.4 2189.9,1377.0 2181.9,1372.9 2173.7,1375.7 2165.7,1372.9 2157.5,1370.2 2149.2,1382.5 2141.3,1393.5 2133.0,1400.4 2124.8,1411.4 2043.5,1412.2 2027.3,1410.0 2019.0,1408.6 2010.8,1401.8 2002.5,1393.5 1994.6,1381.2 1986.3,1375.7 1978.1,1372.9 1970.1,1368.8 1961.9,1368.8 1953.6,1377.0 1945.7,1390.8 1937.4,1396.3 1929.2,1410.0 1847.9,1412.2 1830.0,1405.9 1774.5,1371.1 1766.3,1368.7 1758.2,1380.2 1750.0,1389.1 1741.8,1396.1 1733.7,1410.6 1725.5,1412.2 1717.4,1412.2 1709.2,1412.2 1701.1,1412.2 1693.0,1412.2 1684.8,1412.2 1676.6,1412.2 1668.5,1412.2 1660.3,1412.2 1652.2,1412.2 1644.0,1412.2 1635.9,1409.2 1627.8,1405.5 1619.6,1398.5 1611.5,1392.3 1603.3,1378.9 1595.1,1374.9 1587.0,1366.8 1578.8,1372.7 1570.7,1366.0 1562.5,1376.8 1554.4,1391.8 1546.2,1396.4 1538.1,1412.2 1530.0,1412.2 1521.8,1412.2 1513.6,1412.2 1505.5,1412.2 1497.3,1412.2 1489.2,1412.2 1481.0,1412.2 1472.9,1412.2 1464.8,1412.2 1456.6,1412.2 1448.5,1412.2 1440.3,1410.2 1432.1,1408.2 1424.0,1396.6 1415.8,1388.7 1407.7,1377.6 1399.5,1378.6 1391.4,1363.9 1383.2,1369.8 1375.1,1367.6 1367.0,1379.7 1358.8,1390.5 1350.6,1395.6 1342.5,1410.9 1334.3,1412.2 1326.2,1412.2 1318.0,1412.2 1309.9,1412.2 1301.8,1412.2 1293.6,1412.2 1285.5,1412.2 1277.3,1412.2 1269.1,1412.2 1261.0,1412.2 1252.8,1412.2 1244.7,1408.4 1236.5,1408.2 1228.4,1393.4 1220.2,1385.4 1212.1,1372.5 1204.0,1378.1 1195.8,1363.1 1187.6,1369.5 1179.5,1369.0 1171.3,1376.8 1163.2,1384.8 1155.0,1395.3 1146.9,1406.4 1138.8,1412.2 1130.6,1412.2 1122.5,1412.2 1114.3,1412.2 1106.2,1412.2 1098.0,1412.2 1089.8,1412.2 1081.7,1412.2 1073.5,1412.2 1065.4,1412.2 1057.2,1412.2 1049.1,1408.8 1041.0,1407.1 1032.8,1393.7 1024.7,1384.8 1016.5,1371.7 1008.4,1378.2 1000.2,1365.2 992.1,1370.6 983.9,1366.3 975.8,1361.7 967.6,1380.8 967.5,1382.5 959.5,1394.9 951.3,1405.9 943.0,1412.2 861.7,1412.2 853.5,1410.0 845.2,1405.9 837.3,1396.3 829.0,1383.9 820.8,1385.3 812.8,1372.9 804.6,1359.2 796.3,1358.6 788.4,1367.4 780.1,1378.4 771.9,1389.4 763.9,1394.9 755.7,1394.9 747.4,1412.2 698.7,1412.2 285.8,1412.2 274.8,1411.4 258.4,1404.5 234.2,1407.3 209.7,1410.8 193.2,1409.2 160.8,1412.2" fill="rgb(95,125,175)" fill-opacity="0.2"/><polyline points="128.1,1412.2 136.3,1412.2 144.4,1390.2 152.6,1406.7 160.8,1396.3 168.9,1369.6 177.1,1374.3 185.2,1377.6 193.3,1369.6 201.5,1357.0 209.7,1348.2 217.8,1353.1 225.9,1358.6 234.1,1372.1 242.2,1372.1 250.4,1374.6 258.6,1379.8 266.7,1400.9 274.9,1406.4 283.0,1403.7 291.1,1408.6 299.3,1412.2 307.4,1412.2 315.6,1406.2 323.8,1409.2 331.9,1409.2 340.1,1409.2 348.2,1406.2 356.4,1395.7 364.5,1382.3 372.6,1382.3 380.8,1388.0 389.0,1372.4 397.1,1366.6 405.2,1350.9 413.4,1336.6 421.5,1361.9 429.7,1353.4 437.9,1364.4 446.0,1389.9 454.1,1398.5 462.3,1395.4 470.5,1409.5 478.6,1404.0 486.8,1412.2 494.9,1412.2 503.0,1412.2 511.2,1412.2 519.4,1412.2 527.5,1412.2 535.6,1412.2 543.8,1406.7 552.0,1409.5 560.1,1396.3 568.2,1382.5 576.4,1363.8 584.6,1345.4 592.7,1345.4 600.9,1356.4 609.0,1334.5 617.1,1345.4 625.3,1382.0 633.5,1377.0 641.6,1377.0 649.8,1393.0 657.9,1401.2 666.1,1404.0 674.2,1409.2 682.4,1412.2 690.5,1409.2 698.7,1412.2 706.8,1412.2 715.0,1412.2 723.1,1409.2 731.2,1409.2 739.4,1412.2 747.6,1405.9 755.7,1392.1 763.9,1378.4 772.0,1368.8 780.2,1342.7 788.3,1352.9 796.5,1355.9 804.6,1355.9 812.8,1366.6 820.9,1356.4 829.1,1372.1 837.2,1369.3 845.4,1379.8 853.5,1397.1 861.7,1409.2 869.8,1404.5 878.0,1412.2 886.1,1412.2 894.2,1412.2 902.4,1412.2 910.6,1412.2 918.7,1409.2 926.9,1404.5 935.0,1410.0 943.2,1394.9 951.3,1379.8 959.5,1375.7 967.6,1369.2 975.8,1358.5 983.9,1358.5 992.1,1358.5 1000.2,1345.1 1008.4,1363.9 1016.5,1358.5 1024.7,1377.3 1032.8,1374.6 1041.0,1396.1 1049.1,1393.4 1057.2,1412.2 1065.4,1409.5 1073.5,1412.2 1081.7,1412.2 1089.8,1409.5 1098.0,1412.2 1106.2,1412.2 1114.3,1409.5 1122.5,1401.5 1130.6,1401.5 1138.8,1398.8 1146.9,1398.8 1155.0,1377.3 1163.2,1380.0 1171.3,1363.9 1179.5,1350.4 1187.6,1358.5 1195.8,1345.1 1204.0,1358.5 1212.1,1371.9 1220.2,1385.4 1228.4,1382.7 1236.5,1382.7 1244.7,1401.5 1252.8,1404.1 1261.0,1406.8 1269.1,1404.1 1277.3,1412.2 1285.5,1409.5 1293.6,1412.2 1301.8,1412.2 1309.9,1406.8 1318.0,1404.1 1326.2,1412.2 1334.3,1401.5 1342.5,1401.5 1350.6,1382.7 1358.8,1374.6 1367.0,1355.8 1375.1,1318.2 1383.2,1369.2 1391.4,1361.2 1399.5,1339.7 1407.7,1371.9 1415.8,1385.4 1424.0,1396.1 1432.1,1380.0 1440.3,1401.5 1448.5,1401.5 1456.6,1404.1 1464.8,1409.5 1472.9,1412.2 1481.0,1412.2 1489.2,1409.5 1497.3,1409.5 1505.5,1412.2 1513.6,1406.8 1521.8,1409.5 1530.0,1398.8 1538.1,1377.3 1546.2,1385.4 1554.4,1345.1 1562.5,1374.6 1570.7,1361.2 1578.8,1347.8 1587.0,1361.2 1595.1,1345.1 1603.3,1363.9 1611.5,1385.4 1619.6,1371.9 1627.8,1401.5 1635.9,1385.4 1644.0,1409.5 1652.2,1409.5 1660.3,1412.2 1668.5,1412.2 1676.6,1409.5 1684.8,1406.8 1693.0,1412.2 1701.1,1409.5 1709.2,1412.2 1717.4,1406.8 1725.5,1396.1 1733.7,1390.7 1741.8,1382.7 1750.0,1385.4 1758.2,1347.8 1766.3,1355.8 1774.5,1347.8 1830.0,1396.3 1839.6,1400.4 1847.9,1405.3 1856.1,1408.6 1864.1,1412.2 1872.3,1412.2 1880.5,1412.2 1888.5,1412.2 1896.8,1405.9 1904.7,1398.2 1913.0,1400.9 1921.2,1398.2 1929.2,1393.0 1937.4,1385.3 1945.7,1366.9 1953.6,1364.1 1961.9,1336.6 1970.1,1364.7 1978.1,1369.6 1986.3,1336.6 1994.6,1353.7 2002.5,1399.0 2010.8,1388.0 2019.0,1402.6 2027.3,1404.0 2035.2,1404.0 2043.5,1404.0 2051.4,1412.2 2059.7,1412.2 2067.9,1409.2 2075.9,1406.7 2084.1,1412.2 2092.4,1412.2 2100.6,1404.0 2108.6,1404.0 2116.8,1404.0 2124.8,1394.9 2133.0,1379.8 2141.3,1372.1 2149.2,1372.1 2157.5,1342.1 2165.7,1361.9 2173.7,1364.7 2181.9,1356.4 2189.9,1353.7 2198.1,1358.6 2206.4,1379.8 2214.3,1393.5 2222.6,1390.8 2230.8,1404.0 2238.8,1409.2 2247.0,1406.7 2255.3,1412.2 2263.2,1412.2 2271.5,1409.2 2279.7,1412.2 2287.7,1412.2 2295.9,1409.2 2304.2,1409.2 2312.1,1406.7 2320.4,1390.8 2328.6,1390.8 2336.6,1374.3 2344.8,1350.9 2352.8,1369.3 2361.0,1369.3 2369.3,1306.4 2377.3,1353.7 2385.5,1364.7 2393.7,1382.5" fill="none" stroke="#1d2a3e" stroke-width="2"/></g>
<path d="M968,1288V1471.6H1782V1288" fill="none" stroke="#c8d1e3" stroke-width="4"/>
</svg>
<span class="t" style="left:139.70px;top:581.61px;font-size:25.08px;line-height:31px;letter-spacing:0.119px;font-weight:400;color:#516381;">Zoom:</span>
<span class="t" style="left:219.00px;top:581.61px;font-size:25.08px;line-height:31px;letter-spacing:-0.090px;font-weight:400;color:#0b64dd;">auto 12h 1d 1w</span>
<span class="t" style="left:411.20px;top:581.61px;font-size:25.08px;line-height:31px;letter-spacing:0.062px;font-weight:400;color:#516381;">(aggregation interval: 1h, bucket span: 1h)</span>
<span class="t" style="left:84.60px;top:1225.71px;font-size:25.08px;line-height:31px;letter-spacing:0.000px;font-weight:400;color:#1d2a3e;">0</span>
<span class="t" style="left:84.60px;top:1137.26px;font-size:25.08px;line-height:31px;letter-spacing:0.000px;font-weight:400;color:#1d2a3e;">5</span>
<span class="t" style="left:70.90px;top:1048.81px;font-size:25.08px;line-height:31px;letter-spacing:0.550px;font-weight:400;color:#1d2a3e;">10</span>
<span class="t" style="left:70.90px;top:960.36px;font-size:25.08px;line-height:31px;letter-spacing:0.550px;font-weight:400;color:#1d2a3e;">15</span>
<span class="t" style="left:70.90px;top:871.91px;font-size:25.08px;line-height:31px;letter-spacing:0.550px;font-weight:400;color:#1d2a3e;">20</span>
<span class="t" style="left:70.90px;top:783.46px;font-size:25.08px;line-height:31px;letter-spacing:0.550px;font-weight:400;color:#1d2a3e;">25</span>
<span class="t" style="left:70.90px;top:695.01px;font-size:25.08px;line-height:31px;letter-spacing:0.550px;font-weight:400;color:#1d2a3e;">30</span>
<span class="t" style="left:70.90px;top:606.56px;font-size:25.08px;line-height:31px;letter-spacing:0.550px;font-weight:400;color:#1d2a3e;">35</span>
<span class="t" style="left:474.02px;top:1254.81px;font-size:25.08px;line-height:31px;letter-spacing:0.612px;font-weight:400;color:#1d2a3e;">2025-07-18 00:00</span>
<span class="t" style="left:1023.76px;top:1254.81px;font-size:25.08px;line-height:31px;letter-spacing:0.612px;font-weight:400;color:#1d2a3e;">2025-07-19 00:00</span>
<span class="t" style="left:1573.51px;top:1254.81px;font-size:25.08px;line-height:31px;letter-spacing:0.612px;font-weight:400;color:#1d2a3e;">2025-07-20 00:00</span>
<span class="t" style="left:2123.25px;top:1254.81px;font-size:25.08px;line-height:31px;letter-spacing:0.612px;font-weight:400;color:#1d2a3e;">2025-07-21 00:00</span>
<span class="t" style="left:457.30px;top:1381.36px;font-size:20.9px;line-height:26px;letter-spacing:0.502px;font-weight:400;color:#1d2a3e;">2025-07-15 00:00</span>
<span class="t" style="left:848.50px;top:1381.36px;font-size:20.9px;line-height:26px;letter-spacing:0.502px;font-weight:400;color:#1d2a3e;">2025-07-17 00:00</span>
<span class="t" style="left:1239.70px;top:1381.36px;font-size:20.9px;line-height:26px;letter-spacing:0.502px;font-weight:400;color:#1d2a3e;">2025-07-19 00:00</span>
<span class="t" style="left:1630.90px;top:1381.36px;font-size:20.9px;line-height:26px;letter-spacing:0.502px;font-weight:400;color:#1d2a3e;">2025-07-21 00:00</span>
<span class="t" style="left:2022.10px;top:1381.36px;font-size:20.9px;line-height:26px;letter-spacing:0.502px;font-weight:400;color:#1d2a3e;">2025-07-23 00:00</span>
<svg style="position:absolute;left:0;top:0" width="2536" height="1520" viewBox="0 0 2536 1520">
<path d="M967,1313.1H954.8a5.6,5.6 0 0 0 -5.6,5.6V1445.4a5.6,5.6 0 0 0 5.6,5.6H967Z" fill="#ecf0f9" stroke="#5a6d8c" stroke-width="2"/>
<path d="M1783,1313.1H1795.2a5.6,5.6 0 0 1 5.6,5.6V1445.4a5.6,5.6 0 0 1 -5.6,5.6H1783Z" fill="#ecf0f9" stroke="#5a6d8c" stroke-width="2"/>
<polygon points="952.3,1383.7 962.2,1376.4 962.2,1391" fill="#5a6d8c"/>
<polygon points="1797.7,1383.7 1787.8,1376.4 1787.8,1391" fill="#5a6d8c"/>
<path d="M120.5,1472V1500H2410V1472" fill="none" stroke="#e6eaf3" stroke-width="1.5"/>
<rect x="706.5" y="1476" width="17" height="19.5" fill="#fbeaf2" stroke="#f3c6da" stroke-width="3"/>
<rect x="2389.5" y="1476" width="17" height="19.5" fill="#fbeaf2" stroke="#f3c6da" stroke-width="3"/>
</svg>
<!-- anomalies table -->
<span class="t" style="left:39.60px;top:1538.41px;font-size:33.44px;line-height:42px;letter-spacing:-0.759px;font-weight:700;color:#111c2c;">Anomalies</span>
<div style="position:absolute;left:40px;top:1600px;width:518px;height:64px;border:2px solid #c9d3e3;border-radius:8px;box-sizing:border-box;background:#fff;overflow:hidden;"><div style="position:absolute;left:0px;top:0px;width:210px;height:60px;background:#ecf1f9;"></div></div>
<span class="t" style="left:61.70px;top:1615.81px;font-size:25.08px;line-height:31px;letter-spacing:0.381px;font-weight:400;color:#111c2c;-webkit-text-stroke:0.55px #111c2c;">Anomaly score</span>
<svg style="position:absolute;left:274px;top:1622px;overflow:visible" width="40" height="20" viewBox="0 0 40 20" ><circle cx="10" cy="10.05" r="8" fill="#dceef8"/><circle cx="14" cy="10.05" r="8" fill="#a6d8ee"/><circle cx="18" cy="10.05" r="8" fill="#fcd883"/><circle cx="22" cy="10.05" r="8" fill="#ff9a5a"/><circle cx="26" cy="10.05" r="8" fill="#ee4c48"/></svg>
<span class="t" style="left:324.10px;top:1612.16px;font-size:29.26px;line-height:37px;letter-spacing:0.517px;font-weight:400;color:#1d2a3e;">Multiple</span>
<svg style="position:absolute;left:519.1px;top:1626.8px;overflow:visible" width="19.299999999999955" height="11.200000000000045" viewBox="0 0 19.299999999999955 11.200000000000045" ><polyline points="1.40,1.40 9.65,9.80 17.90,1.40" fill="none" stroke="#516381" stroke-width="2" stroke-linecap="butt" stroke-linejoin="miter"/></svg>
<div style="position:absolute;left:607px;top:1600px;width:373px;height:64px;border:2px solid #c9d3e3;border-radius:8px;box-sizing:border-box;background:#fff;overflow:hidden;"><div style="position:absolute;left:0px;top:0px;width:126px;height:60px;background:#ecf1f9;"></div><div style="position:absolute;left:305px;top:0px;width:66px;height:60px;background:#ecf1f9;"></div></div>
<span class="t" style="left:628.60px;top:1615.81px;font-size:25.08px;line-height:31px;letter-spacing:0.496px;font-weight:400;color:#111c2c;-webkit-text-stroke:0.55px #111c2c;">Interval</span>
<span class="t" style="left:750.70px;top:1612.56px;font-size:29.26px;line-height:37px;letter-spacing:0.485px;font-weight:400;color:#1d2a3e;">Auto</span>
<svg style="position:absolute;left:876.5px;top:1626.9px;overflow:visible" width="19.100000000000023" height="10.599999999999909" viewBox="0 0 19.100000000000023 10.599999999999909" ><polyline points="1.40,1.40 9.55,9.20 17.70,1.40" fill="none" stroke="#516381" stroke-width="2" stroke-linecap="butt" stroke-linejoin="miter"/></svg>
<svg style="position:absolute;left:930.3000000000001px;top:1616.9px;overflow:visible" width="31.6" height="31.6" viewBox="0 0 31.6 31.6" ><circle cx="15.8" cy="15.8" r="12.8" fill="none" stroke="#516381" stroke-width="2"/><text x="15.8" y="23.72" text-anchor="middle" font-family="Liberation Sans, sans-serif" font-size="22" font-weight="400" fill="#516381" stroke="#516381" stroke-width="0.5">?</text></svg>
<span class="t th" style="left:131.20px;top:1701.61px;font-size:25.08px;line-height:31px;letter-spacing:0.441px;font-weight:400;color:#111c2c;-webkit-text-stroke:0.85px #111c2c;">Time</span>
<svg style="position:absolute;left:199.79999999999998px;top:1703.2px;overflow:visible" width="24.6" height="29.59999999999991" viewBox="0 0 24.6 29.59999999999991" ><path d="M12.3,1.4V28.19999999999991M2.0,11.40L12.3,1.4L22.6,11.40M2.0,18.20L12.3,28.19999999999991L22.6,18.20" fill="none" stroke="#5a6d8c" stroke-width="2"/></svg>
<span class="t th" style="left:485.60px;top:1701.61px;font-size:25.08px;line-height:31px;letter-spacing:0.173px;font-weight:400;color:#111c2c;-webkit-text-stroke:0.85px #111c2c;">Score</span>
<svg style="position:absolute;left:557.6px;top:1706.5px;overflow:visible" width="24.8" height="24.8" viewBox="0 0 24.8 24.8" ><circle cx="12.4" cy="12.4" r="9.700000000000001" fill="none" stroke="#516381" stroke-width="1.4"/><text x="12.4" y="18.16" text-anchor="middle" font-family="Liberation Sans, sans-serif" font-size="16" font-weight="400" fill="#516381" stroke="#516381" stroke-width="0.5">?</text></svg>
<svg style="position:absolute;left:593.6px;top:1704px;overflow:visible" width="24.6" height="28.799999999999955" viewBox="0 0 24.6 28.799999999999955" ><path d="M12.3,0V27.399999999999956M2.0,17.10L12.3,27.399999999999956L22.6,17.10" fill="none" stroke="#111c2c" stroke-width="2"/></svg>
<span class="t th" style="left:682.60px;top:1701.61px;font-size:25.08px;line-height:31px;letter-spacing:0.881px;font-weight:400;color:#111c2c;-webkit-text-stroke:0.85px #111c2c;">Detector</span>
<svg style="position:absolute;left:795.6px;top:1703.2px;overflow:visible" width="24.6" height="29.59999999999991" viewBox="0 0 24.6 29.59999999999991" ><path d="M12.3,1.4V28.19999999999991M2.0,11.40L12.3,1.4L22.6,11.40M2.0,18.20L12.3,28.19999999999991L22.6,18.20" fill="none" stroke="#5a6d8c" stroke-width="2"/></svg>
<span class="t th" style="left:1125.00px;top:1701.61px;font-size:25.08px;line-height:31px;letter-spacing:0.237px;font-weight:400;color:#111c2c;-webkit-text-stroke:0.85px #111c2c;">Found for</span>
<svg style="position:absolute;left:1245.6000000000001px;top:1703.2px;overflow:visible" width="24.6" height="29.59999999999991" viewBox="0 0 24.6 29.59999999999991" ><path d="M12.3,1.4V28.19999999999991M2.0,11.40L12.3,1.4L22.6,11.40M2.0,18.20L12.3,28.19999999999991L22.6,18.20" fill="none" stroke="#5a6d8c" stroke-width="2"/></svg>
<span class="t th" style="left:1338.70px;top:1701.61px;font-size:25.08px;line-height:31px;letter-spacing:0.522px;font-weight:400;color:#111c2c;-webkit-text-stroke:0.85px #111c2c;">Influenced by</span>
<svg style="position:absolute;left:1506.9px;top:1703.2px;overflow:visible" width="24.6" height="29.59999999999991" viewBox="0 0 24.6 29.59999999999991" ><path d="M12.3,1.4V28.19999999999991M2.0,11.40L12.3,1.4L22.6,11.40M2.0,18.20L12.3,28.19999999999991L22.6,18.20" fill="none" stroke="#5a6d8c" stroke-width="2"/></svg>
<span class="t th" style="left:1705.50px;top:1701.61px;font-size:25.08px;line-height:31px;letter-spacing:0.750px;font-weight:400;color:#111c2c;-webkit-text-stroke:0.85px #111c2c;">Actual</span>
<svg style="position:absolute;left:1784.6999999999998px;top:1706.5px;overflow:visible" width="24.8" height="24.8" viewBox="0 0 24.8 24.8" ><circle cx="12.4" cy="12.4" r="9.700000000000001" fill="none" stroke="#516381" stroke-width="1.4"/><text x="12.4" y="18.16" text-anchor="middle" font-family="Liberation Sans, sans-serif" font-size="16" font-weight="400" fill="#516381" stroke="#516381" stroke-width="0.5">?</text></svg>
<svg style="position:absolute;left:1820.9px;top:1703.2px;overflow:visible" width="24.6" height="29.59999999999991" viewBox="0 0 24.6 29.59999999999991" ><path d="M12.3,1.4V28.19999999999991M2.0,11.40L12.3,1.4L22.6,11.40M2.0,18.20L12.3,28.19999999999991L22.6,18.20" fill="none" stroke="#5a6d8c" stroke-width="2"/></svg>
<span class="t th" style="left:1912.60px;top:1701.61px;font-size:25.08px;line-height:31px;letter-spacing:0.615px;font-weight:400;color:#111c2c;-webkit-text-stroke:0.85px #111c2c;">Typical</span>
<svg style="position:absolute;left:1999.6px;top:1706.5px;overflow:visible" width="24.8" height="24.8" viewBox="0 0 24.8 24.8" ><circle cx="12.4" cy="12.4" r="9.700000000000001" fill="none" stroke="#516381" stroke-width="1.4"/><text x="12.4" y="18.16" text-anchor="middle" font-family="Liberation Sans, sans-serif" font-size="16" font-weight="400" fill="#516381" stroke="#516381" stroke-width="0.5">?</text></svg>
<svg style="position:absolute;left:2035.8999999999999px;top:1703.2px;overflow:visible" width="24.6" height="29.59999999999991" viewBox="0 0 24.6 29.59999999999991" ><path d="M12.3,1.4V28.19999999999991M2.0,11.40L12.3,1.4L22.6,11.40M2.0,18.20L12.3,28.19999999999991L22.6,18.20" fill="none" stroke="#5a6d8c" stroke-width="2"/></svg>
<span class="t th" style="left:2129.90px;top:1701.61px;font-size:25.08px;line-height:31px;letter-spacing:0.600px;font-weight:400;color:#111c2c;-webkit-text-stroke:0.85px #111c2c;">Description</span>
<svg style="position:absolute;left:2273.7px;top:1703.2px;overflow:visible" width="24.6" height="29.59999999999991" viewBox="0 0 24.6 29.59999999999991" ><path d="M12.3,1.4V28.19999999999991M2.0,11.40L12.3,1.4L22.6,11.40M2.0,18.20L12.3,28.19999999999991L22.6,18.20" fill="none" stroke="#5a6d8c" stroke-width="2"/></svg>
<span class="t th" style="left:2372.90px;top:1701.61px;font-size:25.08px;line-height:31px;letter-spacing:0.712px;font-weight:400;color:#111c2c;-webkit-text-stroke:0.85px #111c2c;">Actions</span>
<div style="position:absolute;left:40px;top:1742px;width:2458px;height:2px;background:#e3e8f2;"></div>
<svg style="position:absolute;left:65.3px;top:1771.6px;overflow:visible" width="14.0" height="25.100000000000136" viewBox="0 0 14.0 25.100000000000136" ><polyline points="1.40,1.40 12.60,12.55 1.40,23.70" fill="none" stroke="#1750ba" stroke-width="2"/></svg>
<span class="t" style="left:131.20px;top:1767.01px;font-size:25.08px;line-height:31px;letter-spacing:0.864px;font-weight:400;color:#1d2a3e;">July 19th 2025, 06:00</span>
<svg style="position:absolute;left:493.8px;top:1776px;overflow:visible" width="16" height="16" viewBox="0 0 16 16" ><circle cx="8" cy="8" r="8" fill="#ee4b4b"/></svg>
<span class="t" style="left:525.80px;top:1767.01px;font-size:25.08px;line-height:31px;letter-spacing:2.050px;font-weight:400;color:#1d2a3e;">95</span>
<span class="t" style="left:682.60px;top:1767.01px;font-size:25.08px;line-height:31px;letter-spacing:0.200px;font-weight:400;color:#1d2a3e;">Event rate by response code</span>
<span class="t" style="left:1125.50px;top:1767.01px;font-size:25.08px;line-height:31px;letter-spacing:1.450px;font-weight:400;color:#1d2a3e;">200</span>
<svg style="position:absolute;left:1174.8px;top:1770.8px;overflow:visible" width="24.4" height="24.4" viewBox="0 0 24.4 24.4" ><circle cx="12.2" cy="12.2" r="9.5" fill="none" stroke="#b4bed2" stroke-width="1.4"/><path d="M6.299999999999999,12.2H18.1M12.2,6.299999999999999V18.1" stroke="#b4bed2" stroke-width="1.7999999999999998" fill="none"/></svg>
<svg style="position:absolute;left:1206.8px;top:1770.8px;overflow:visible" width="24.4" height="24.4" viewBox="0 0 24.4 24.4" ><circle cx="12.2" cy="12.2" r="9.5" fill="none" stroke="#b4bed2" stroke-width="1.4"/><path d="M6.299999999999999,12.2H18.1" stroke="#b4bed2" stroke-width="1.7999999999999998" fill="none"/></svg>
<span class="t" style="left:1338.70px;top:1767.01px;font-size:25.08px;line-height:31px;letter-spacing:0.396px;font-weight:400;color:#1d2a3e;">response.keyword: 200</span>
<span class="t" style="left:1705.50px;top:1767.01px;font-size:25.08px;line-height:31px;letter-spacing:2.950px;font-weight:400;color:#1d2a3e;">35</span>
<span class="t" style="left:1912.60px;top:1767.01px;font-size:25.08px;line-height:31px;letter-spacing:1.271px;font-weight:400;color:#1d2a3e;">21.3</span>
<svg style="position:absolute;left:2131.2999999999997px;top:1772.9px;overflow:visible" width="20.8" height="22.09999999999991" viewBox="0 0 20.8 22.09999999999991" ><path d="M10.4,22.09999999999991V1.4M2.0,9.80L10.4,1.4L18.8,9.80" fill="none" stroke="#1d2a3e" stroke-width="2"/></svg>
<span class="t" style="left:2170.40px;top:1767.01px;font-size:25.08px;line-height:31px;letter-spacing:0.401px;font-weight:400;color:#1d2a3e;">2x higher</span>
<svg style="position:absolute;left:2385.0px;top:1764.0px;overflow:visible" width="40" height="40" viewBox="0 0 40 40" ><path d="M17.30,8.72L17.30,5.25L22.70,5.25L22.70,8.72A5.2,5.2 0 0 0 28.42,12.02L31.43,10.28L34.13,14.96L31.12,16.70A5.2,5.2 0 0 0 31.12,23.30L34.13,25.04L31.43,29.72L28.42,27.98A5.2,5.2 0 0 0 22.70,31.28L22.70,34.75L17.30,34.75L17.30,31.28A5.2,5.2 0 0 0 11.58,27.98L8.57,29.72L5.87,25.04L8.88,23.30A5.2,5.2 0 0 0 8.88,16.70L5.87,14.96L8.57,10.28L11.58,12.02A5.2,5.2 0 0 0 17.30,8.72Z" fill="none" stroke="#111c2c" stroke-width="2" stroke-linejoin="round"/><circle cx="20.0" cy="20.0" r="5" fill="none" stroke="#111c2c" stroke-width="2"/></svg>
<div style="position:absolute;left:40px;top:1824px;width:2458px;height:2px;background:#e3e8f2;"></div>
<span class="t" style="left:55.30px;top:1874.11px;font-size:25.08px;line-height:31px;letter-spacing:0.169px;font-weight:400;color:#111c2c;-webkit-text-stroke:0.5px #111c2c;">Rows per page: 25</span>
<svg style="position:absolute;left:286.8px;top:1885.3px;overflow:visible" width="19.30000000000001" height="11.0" viewBox="0 0 19.30000000000001 11.0" ><polyline points="1.40,1.40 9.65,9.60 17.90,1.40" fill="none" stroke="#111c2c" stroke-width="2" stroke-linecap="butt" stroke-linejoin="miter"/></svg>
<svg style="position:absolute;left:2373.7px;top:1877.8px;overflow:visible" width="14.5" height="25.0" viewBox="0 0 14.5 25.0" ><polyline points="13.10,1.40 1.40,12.50 13.10,23.60" fill="none" stroke="#8fa0bf" stroke-width="2"/></svg>
<span class="t" style="left:2420.10px;top:1871.36px;font-size:29.26px;line-height:37px;letter-spacing:0.000px;font-weight:700;color:#0b64dd;">1</span>
<div style="position:absolute;left:2420.3px;top:1901.8px;width:14.2px;height:2px;background:#0b64dd;"></div>
<svg style="position:absolute;left:2467.1px;top:1877.8px;overflow:visible" width="14.5" height="25.0" viewBox="0 0 14.5 25.0" ><polyline points="1.40,1.40 13.10,12.50 1.40,23.60" fill="none" stroke="#8fa0bf" stroke-width="2"/></svg>
</div>
</body></html>
